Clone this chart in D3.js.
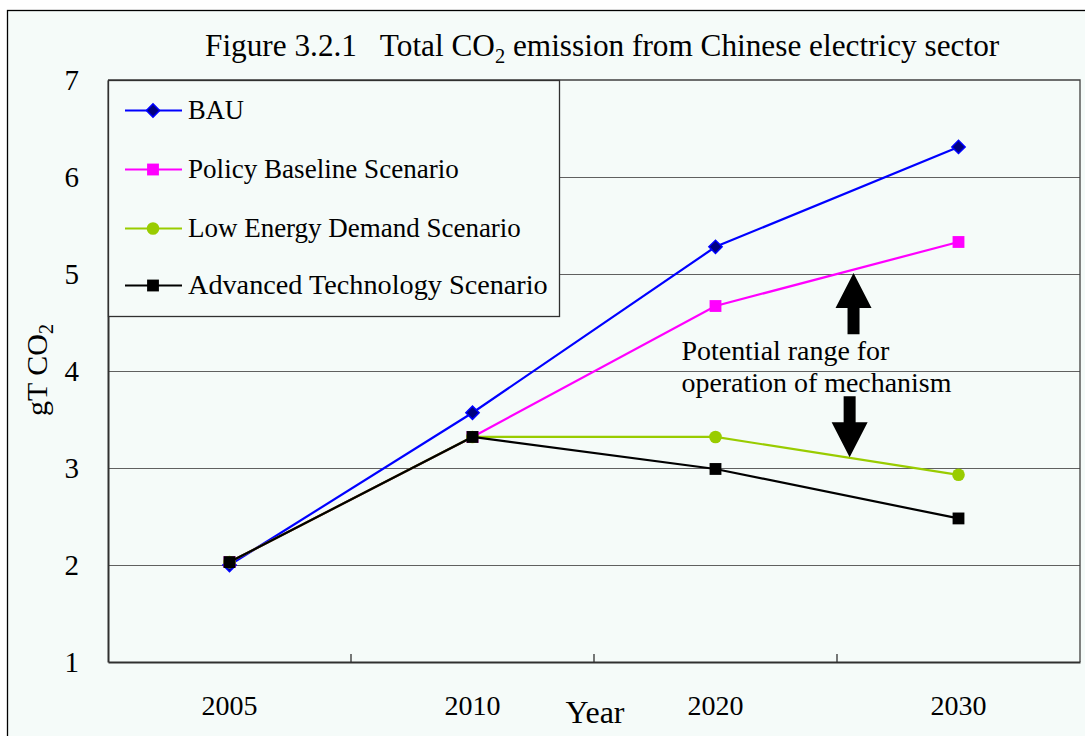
<!DOCTYPE html>
<html><head><meta charset="utf-8">
<script src="https://cdn.jsdelivr.net/npm/d3@7/dist/d3.min.js"></script>
<style>html,body{margin:0;padding:0;background:#fff;} svg{display:block;} text{font-family:"Liberation Serif","Times New Roman",serif;fill:#000;}</style>
</head><body><svg id="c" width="1085" height="736"></svg>
<script>
// ---- data ----
const years = ["2005", "2010", "2020", "2030"];
const seriesNames = ["BAU", "Policy Baseline Scenario", "Low Energy Demand Scenario", "Advanced Technology Scenario"];
const bau = [2.00, 3.57, 5.28, 6.31];
const policyBaseline = [2.03, 3.32, 4.67, 5.33];
const lowEnergyDemand = [2.03, 3.32, 3.32, 2.93];
const advancedTechnology = [2.03, 3.32, 2.99, 2.48];
const yTicks = [1, 2, 3, 4, 5, 6, 7];
const gridTicks = [2, 3, 4, 5, 6];
const titleParts = ["Figure 3.2.1\u00a0\u00a0 Total CO", "2", " emission from Chinese electricy sector"];
const yTitleParts = ["gT CO", "2"];
const xTitle = "Year";
const annotationLines = ["Potential range for", "operation of mechanism"];
// arrows: [from value, to value] (tip at "to")
const upArrow = [4.38, 5.01];
const downArrow = [3.74, 3.11];

// ---- style ----
const colors = ["#0000ff", "#ff00ff", "#99cc00", "#000000"];
const markerFill = ["#000080", "#ff00ff", "#99cc00", "#000000"];
const markerStroke = ["#0000ff", "#ff00ff", "#99cc00", "#000000"];
const markerShapes = ["diamond", "square", "circle", "square"];
const bg = "#f5fbf9";

const svg = d3.select("#c");
const W = 1085, H = 736;
const plot = {left: 108, right: 1080, top: 80, bottom: 662};

svg.append("rect").attr("width", W).attr("height", H).attr("fill", "#fff");
svg.append("rect").attr("x", 7.5).attr("y", 10.5).attr("width", W + 20).attr("height", H + 20)
  .attr("fill", bg).attr("stroke", "#000").attr("stroke-width", 1.3);

const x = d3.scaleBand().domain(years).range([plot.left, plot.right]).padding(0);
const y = d3.scaleLinear().domain([1, 7]).range([plot.bottom, plot.top]);
const cx = d => x(d) + x.bandwidth() / 2;

// gridlines
svg.append("g").attr("transform", `translate(${plot.left},0)`)
  .call(d3.axisLeft(y).tickValues(gridTicks).tickSize(-(plot.right - plot.left)).tickFormat(""))
  .call(g => g.select(".domain").remove())
  .call(g => g.selectAll("line").attr("stroke", "#606060").attr("stroke-width", 1.2));

// frame top & right
svg.append("path")
  .attr("d", d3.line()([[plot.left, y(7)], [plot.right, y(7)], [plot.right, y(1)]]))
  .attr("fill", "none").attr("stroke", "#404040").attr("stroke-width", 1.3);

// y axis
const yAxis = svg.append("g").attr("transform", `translate(${plot.left},0)`)
  .call(d3.axisLeft(y).tickValues(yTicks).tickSize(0).tickSizeOuter(0).tickPadding(29).tickFormat(d3.format("d")));
yAxis.select(".domain").attr("stroke", "#303030").attr("stroke-width", 2);
yAxis.selectAll("text").style("font-family", '"Liberation Serif", serif').style("font-size", "29px").attr("fill", "#000");

// x axis
const xAxis = svg.append("g").attr("transform", `translate(0,${plot.bottom})`)
  .call(d3.axisBottom(x).tickSize(0).tickSizeOuter(0).tickPadding(33));
xAxis.select(".domain").attr("stroke", "#303030").attr("stroke-width", 2);
xAxis.selectAll("text").style("font-family", '"Liberation Serif", serif').style("font-size", "28px").attr("fill", "#000");

// category divider ticks (inward)
svg.append("g").selectAll("line").data(years.slice(1)).join("line")
  .attr("x1", d => x(d)).attr("x2", d => x(d))
  .attr("y1", plot.bottom).attr("y2", plot.bottom - 8)
  .attr("stroke", "#303030").attr("stroke-width", 1.3);

// series
const series = [bau, policyBaseline, lowEnergyDemand, advancedTechnology].map((vals, i) => ({
  name: seriesNames[i], i, pts: vals.map((v, j) => ({year: years[j], v}))
}));
const line = d3.line().x(d => cx(d.year)).y(d => y(d.v));
function symbolFor(i) {
  const s = markerShapes[i];
  if (s === "diamond") return d3.symbol().type(d3.symbolSquare).size(88)();
  if (s === "square") return d3.symbol().type(d3.symbolSquare).size(140)();
  return d3.symbol().type(d3.symbolCircle).size(125)();
}
const sg = svg.append("g").selectAll("g").data(series).join("g");
sg.append("path").attr("d", d => line(d.pts)).attr("fill", "none")
  .attr("stroke", d => colors[d.i]).attr("stroke-width", 2.2);
sg.each(function(s) {
  d3.select(this).selectAll("path.m").data(s.pts).join("path").attr("class", "m")
    .attr("d", symbolFor(s.i))
    .attr("transform", d => `translate(${cx(d.year)},${y(d.v)})` + (markerShapes[s.i] === "diamond" ? " rotate(45)" : ""))
    .attr("fill", markerFill[s.i]).attr("stroke", markerStroke[s.i]).attr("stroke-width", markerShapes[s.i] === "diamond" ? 1.5 : 0);
});

// helper to fit text width
function fitWidth(sel, target) {
  const node = sel.node();
  const bb = node.getBBox();
  const k = target / bb.width;
  const x0 = bb.x;
  sel.attr("transform", `translate(${x0},0) scale(${k},1) translate(${-x0},0)`);
}

// legend
const leg = {x0: plot.left, x1: 559, y0: plot.top, y1: 316};
svg.append("rect").attr("x", leg.x0 + 0.5).attr("y", leg.y0 + 0.5)
  .attr("width", leg.x1 - leg.x0).attr("height", leg.y1 - leg.y0)
  .attr("fill", bg).attr("stroke", "#303030").attr("stroke-width", 1.3);
const legendYs = [110.5, 169.5, 228.5, 285.5];
const legendWidths = [56, 271, 333, 360];
series.forEach((s, i) => {
  const ly = legendYs[i];
  svg.append("line").attr("x1", 125).attr("x2", 182).attr("y1", ly).attr("y2", ly)
    .attr("stroke", colors[i]).attr("stroke-width", 2.2);
  svg.append("path").attr("d", symbolFor(i))
    .attr("transform", `translate(153,${ly})` + (markerShapes[i] === "diamond" ? " rotate(45)" : ""))
    .attr("fill", markerFill[i]).attr("stroke", markerStroke[i]).attr("stroke-width", markerShapes[i] === "diamond" ? 1.5 : 0);
  const t = svg.append("text").attr("x", 188).attr("y", ly + 8.5).style("font-size", "28px").text(s.name);
  fitWidth(t, legendWidths[i]);
});

// title
const title = svg.append("text").attr("x", 205).attr("y", 56).style("font-size", "32px").style("white-space", "pre");
title.append("tspan").text(titleParts[0]);
title.append("tspan").attr("dy", 7).style("font-size", "21px").text(titleParts[1]);
title.append("tspan").attr("dy", -7).text(titleParts[2]);
fitWidth(title, 795);

// y title
const yt = svg.append("text").attr("transform", `translate(47,370) rotate(-90)`)
  .attr("text-anchor", "middle").style("font-size", "30px");
yt.append("tspan").text(yTitleParts[0]);
yt.append("tspan").attr("dy", 6).style("font-size", "20px").text(yTitleParts[1]);

// x title
svg.append("text").attr("x", 595).attr("y", 723).attr("text-anchor", "middle").style("font-size", "32px").text(xTitle);

// annotation
const ax = cx("2020") - 0.14 * x.bandwidth();
const annWidths = [208, 270];
annotationLines.forEach((l, i) => {
  const t = svg.append("text").attr("x", ax).attr("y", 360 + i * 32).style("font-size", "27px").text(l);
  fitWidth(t, annWidths[i]);
});

// arrows
function arrow(xc, from, to) {
  const yf = y(from), yt2 = y(to);
  const dir = yt2 < yf ? -1 : 1;
  const headLen = 35, headHalf = 18, shaftHalf = 6;
  const yb = yt2 - dir * headLen;
  const p = d3.path();
  p.moveTo(xc - shaftHalf, yf);
  p.lineTo(xc - shaftHalf, yb);
  p.lineTo(xc - headHalf, yb);
  p.lineTo(xc, yt2);
  p.lineTo(xc + headHalf, yb);
  p.lineTo(xc + shaftHalf, yb);
  p.lineTo(xc + shaftHalf, yf);
  p.closePath();
  svg.append("path").attr("d", p.toString()).attr("fill", "#000");
}
arrow(cx("2020") + 0.568 * x.bandwidth(), upArrow[0], upArrow[1]);
arrow(cx("2020") + 0.552 * x.bandwidth(), downArrow[0], downArrow[1]);
</script>
</body></html>
